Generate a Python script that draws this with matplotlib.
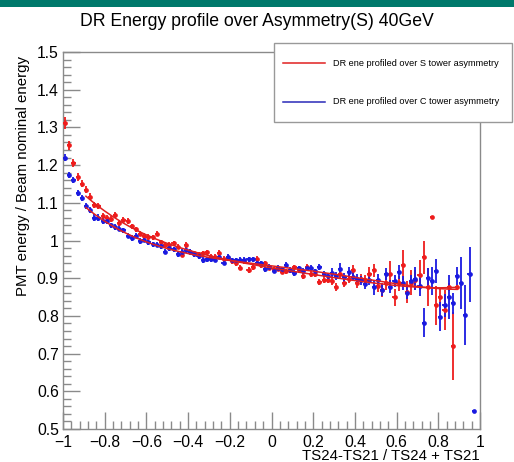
import numpy as np
import matplotlib
matplotlib.use("Agg")
import matplotlib.pyplot as plt
from matplotlib.patches import Rectangle
from matplotlib.lines import Line2D
from matplotlib.ticker import MultipleLocator, FuncFormatter

plt.rcParams['font.family'] = ['Liberation Sans', 'DejaVu Sans']

# Profile binning along the asymmetry axis
n_bins = 100
x_lo, x_hi = -1.0, 1.0
bin_edges = np.linspace(x_lo, x_hi, n_bins + 1)
bin_centers = 0.5 * (bin_edges[:-1] + bin_edges[1:])
half_width = 0.5 * (bin_edges[1] - bin_edges[0])

# Mean DR energy / beam energy per bin, profiled over S tower asymmetry
s_mean = [
    1.312, 1.252, 1.205, 1.168, 1.151, 1.135, 1.116, 1.094, 1.092, 1.064,
    1.060, 1.058, 1.067, 1.046, 1.055, 1.052, 1.038, 1.030, 1.018, 1.012,
    1.009, 1.008, 1.018, 0.995, 0.989, 0.988, 0.993, 0.984, 0.962, 0.988,
    0.970, 0.966, 0.963, 0.966, 0.969, 0.956, 0.957, 0.968, 0.951, 0.953,
    0.945, 0.939, 0.928, 0.945, 0.922, 0.929, 0.951, 0.935, 0.939, 0.928,
    0.924, 0.925, 0.917, 0.918, 0.921, 0.929, 0.922, 0.907, 0.930, 0.912,
    0.910, 0.891, 0.896, 0.895, 0.893, 0.877, 0.910, 0.888, 0.899, 0.921,
    0.887, 0.899, 0.895, 0.912, 0.921, 0.879, 0.869, 0.888, 0.910, 0.849,
    0.887, 0.934, 0.863, 0.888, 0.895, 0.908, 0.955, 0.877, 1.062, 0.828,
    0.851, 0.816, 0.877, 0.720, 0.876,
]
s_err = [
    0.015, 0.012, 0.010, 0.010, 0.009, 0.009, 0.009, 0.008, 0.008, 0.008,
    0.008, 0.008, 0.008, 0.007, 0.007, 0.007, 0.007, 0.007, 0.007, 0.007,
    0.007, 0.007, 0.007, 0.007, 0.007, 0.007, 0.007, 0.007, 0.007, 0.007,
    0.007, 0.007, 0.007, 0.007, 0.007, 0.007, 0.007, 0.007, 0.007, 0.007,
    0.007, 0.007, 0.007, 0.007, 0.007, 0.007, 0.007, 0.007, 0.007, 0.007,
    0.007, 0.007, 0.007, 0.007, 0.007, 0.007, 0.008, 0.008, 0.008, 0.008,
    0.008, 0.008, 0.009, 0.009, 0.010, 0.011, 0.011, 0.012, 0.012, 0.015,
    0.013, 0.013, 0.014, 0.017, 0.017, 0.016, 0.018, 0.020, 0.036, 0.022,
    0.020, 0.040, 0.029, 0.033, 0.027, 0.040, 0.045, 0.050, 0.000, 0.052,
    0.024, 0.053, 0.011, 0.091, 0.007,
]

# Mean DR energy / beam energy per bin, profiled over C tower asymmetry
c_mean = [
    1.220, 1.174, 1.160, 1.125, 1.112, 1.092, 1.081, 1.061, 1.061, 1.052,
    1.052, 1.040, 1.036, 1.031, 1.027, 1.013, 1.007, 1.013, 0.999, 1.002,
    0.995, 0.990, 0.989, 0.985, 0.970, 0.979, 0.977, 0.963, 0.970, 0.975,
    0.970, 0.964, 0.958, 0.948, 0.950, 0.950, 0.949, 0.957, 0.941, 0.956,
    0.947, 0.947, 0.948, 0.949, 0.950, 0.950, 0.941, 0.939, 0.924, 0.930,
    0.920, 0.927, 0.924, 0.935, 0.922, 0.914, 0.926, 0.919, 0.926, 0.928,
    0.918, 0.929, 0.912, 0.906, 0.915, 0.906, 0.925, 0.902, 0.916, 0.904,
    0.898, 0.895, 0.885, 0.895, 0.876, 0.895, 0.869, 0.911, 0.877, 0.893,
    0.917, 0.888, 0.862, 0.893, 0.899, 0.879, 0.782, 0.900, 0.893, 0.919,
    0.798, 0.828, 0.851, 0.833, 0.906, 0.888, 0.802, 0.910, 0.549,
]
c_err = [
    0.010, 0.009, 0.008, 0.008, 0.008, 0.008, 0.008, 0.008, 0.008, 0.008,
    0.008, 0.007, 0.007, 0.007, 0.007, 0.007, 0.007, 0.007, 0.007, 0.007,
    0.007, 0.007, 0.007, 0.007, 0.007, 0.007, 0.007, 0.007, 0.007, 0.007,
    0.007, 0.007, 0.007, 0.007, 0.007, 0.007, 0.007, 0.007, 0.007, 0.007,
    0.007, 0.007, 0.007, 0.007, 0.007, 0.007, 0.007, 0.007, 0.007, 0.007,
    0.007, 0.007, 0.007, 0.007, 0.007, 0.007, 0.007, 0.007, 0.007, 0.007,
    0.007, 0.008, 0.008, 0.008, 0.011, 0.011, 0.014, 0.012, 0.013, 0.012,
    0.013, 0.012, 0.014, 0.014, 0.020, 0.015, 0.016, 0.017, 0.017, 0.016,
    0.018, 0.019, 0.018, 0.015, 0.030, 0.026, 0.038, 0.028, 0.038, 0.032,
    0.038, 0.031, 0.058, 0.029, 0.024, 0.069, 0.080, 0.074, 0.000,
]

series_labels = ["DR ene profiled over S tower asymmetry",
                 "DR ene profiled over C tower asymmetry"]
title_text = "DR Energy profile over Asymmetry(S) 40GeV"
x_title = "TS24-TS21 / TS24 + TS21"
y_title = "PMT energy / Beam nominal energy"
fit_lo, fit_hi = -0.9, 0.9

S_COLOR = "#ee1c1c"
C_COLOR = "#1a1ae0"
FIT_COLOR = "#e02020"
FRAME = "#8a8a8a"

W, H = 514, 462
fig = plt.figure(figsize=(W / 100, H / 100), dpi=100)
ax = fig.add_axes([63 / W, 1 - 429 / H, 417 / W, 377 / H])


def draw_profile(mean, err, color):
    x = bin_centers[:len(mean)]
    ax.errorbar(x, mean, yerr=err, xerr=half_width, fmt='o', ms=3.4,
                color=color, ecolor=color, elinewidth=1.3, capsize=0,
                mew=0, zorder=3)


def draw_fit(mean, err, color):
    x = bin_centers[:len(mean)]
    y = np.asarray(mean)
    e = np.asarray(err)
    sel = (x >= fit_lo) & (x <= fit_hi) & (e > 0)
    coef = np.polyfit(x[sel], y[sel], 4, w=1.0 / e[sel])
    xs = np.linspace(x[sel].min(), x[sel].max(), 300)
    ax.plot(xs, np.polyval(coef, xs), color=color, lw=1.1, zorder=4)


draw_profile(s_mean, s_err, S_COLOR)
draw_profile(c_mean, c_err, C_COLOR)
draw_fit(s_mean, s_err, FIT_COLOR)
draw_fit(c_mean, c_err, FIT_COLOR)

ax.set_xlim(x_lo, x_hi)
ax.set_ylim(0.5, 1.5)

ax.xaxis.set_major_locator(MultipleLocator(0.2))
ax.xaxis.set_minor_locator(MultipleLocator(0.04))
ax.yaxis.set_major_locator(MultipleLocator(0.1))
ax.yaxis.set_minor_locator(MultipleLocator(0.02))


def fmt_tick(v, pos):
    s = "%g" % round(v, 3)
    if s == "-0":
        s = "0"
    return s.replace("-", "\u2212")


ax.xaxis.set_major_formatter(FuncFormatter(fmt_tick))
ax.yaxis.set_major_formatter(FuncFormatter(fmt_tick))

ax.tick_params(which='both', direction='in', color=FRAME, width=1.0,
               labelsize=11.3, top=False, right=False)
ax.tick_params(which='major', length=12)
ax.tick_params(which='minor', length=6)
ax.tick_params(axis='x', pad=4)
ax.tick_params(axis='y', pad=3)
for sp in ax.spines.values():
    sp.set_color(FRAME)
    sp.set_linewidth(1.0)

ax.set_xlabel(x_title, fontsize=10.8, ha='right')
ax.xaxis.set_label_coords(1.0, -0.052)
ax.set_ylabel(y_title, fontsize=10.8, ha='right')
ax.yaxis.set_label_coords(-0.08, 0.99)

fig.text(0.5, 1 - 21 / H, title_text, ha='center', va='center', fontsize=12.7)

# Top colour band
fig.add_artist(Rectangle((0, 1 - 7 / H), 1, 7 / H, transform=fig.transFigure,
                         facecolor="#00796b", edgecolor='none', zorder=10))

# Legend box
lx0, ly0, lx1, ly1 = 274, 43, 512, 122
fig.add_artist(Rectangle((lx0 / W, 1 - ly1 / H), (lx1 - lx0) / W, (ly1 - ly0) / H,
                         transform=fig.transFigure, facecolor='white',
                         edgecolor="#999999", lw=1.0, zorder=10))
for yrow, col, lab in [(63, FIT_COLOR, series_labels[0]),
                       (102, "#2a2ab8", series_labels[1])]:
    fig.add_artist(Line2D([283 / W, 325 / W], [1 - yrow / H, 1 - yrow / H],
                          transform=fig.transFigure, color=col, lw=1.1, zorder=11))
    fig.text(333 / W, 1 - yrow / H, lab, ha='left', va='center',
             fontsize=6.6, zorder=11)

fig.savefig("out.png", dpi=100)
